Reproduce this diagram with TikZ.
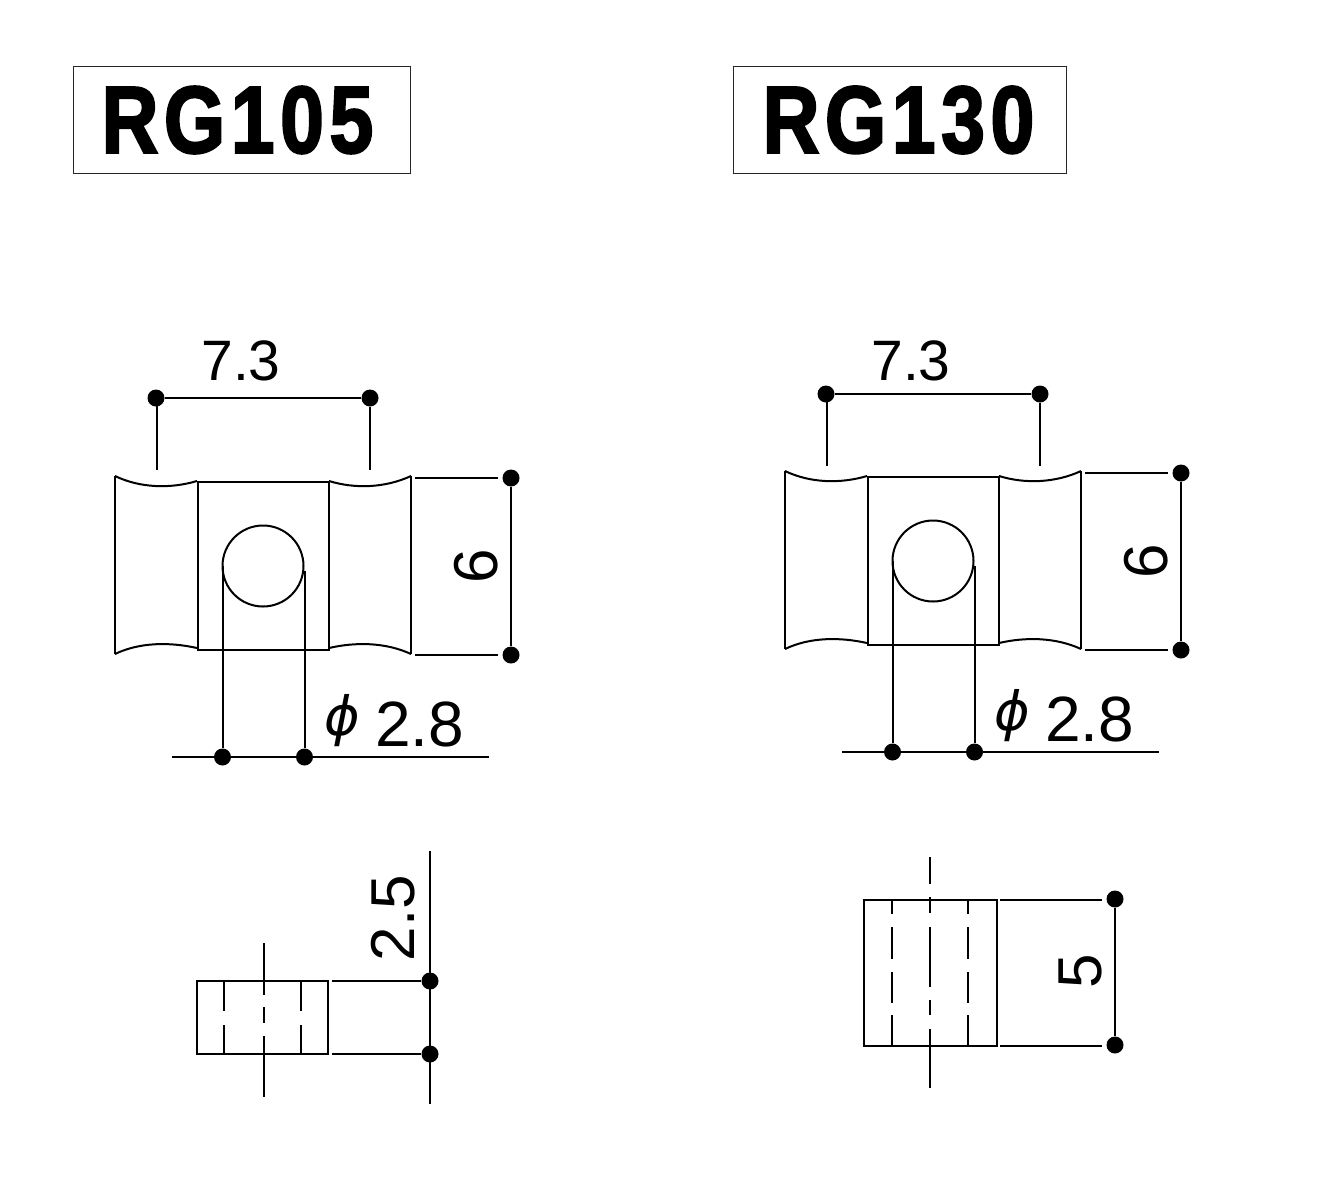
\documentclass[tikz,border=0pt]{standalone}
\usepackage{fontspec}
\setmainfont{Liberation Sans}
\newfontfamily\phifont{DejaVu Sans}
\newfontfamily\titlefont[FakeBold=2.5,LetterSpace=7]{Liberation Sans Bold}
\tikzset{
  part/.style={line width=2pt,line cap=butt},
  thin box/.style={draw=black!85,line width=0.9pt},
  dimline/.style={line width=2pt},
  blob/.style={circle,fill=black,inner sep=0pt,minimum size=17pt},
  title/.style={font=\fontsize{95}{95}\titlefont,xscale=0.83,inner sep=0pt},
  dimtext/.style={font=\fontsize{62}{62}\selectfont,inner sep=0pt},
  widthtext/.style={font=\fontsize{57}{57}\selectfont,inner sep=0pt},
  diatext/.style={font=\fontsize{64}{64}\selectfont,inner sep=0pt},
}
\newcommand{\topview}[1]{%
  \begin{scope}[shift={(#1)}]
  \draw[part] (115,476) .. controls (140,488) and (170,489) .. (197,481);
  \draw[part] (115,654) .. controls (140,642) and (170,642) .. (197,648);
  \draw[part] (115,476) -- (115,654);
  \draw[part] (198,482) rectangle (329,650);
  \draw[part] (329,481) .. controls (355,489) and (385,488) .. (411,476);
  \draw[part] (329,648) .. controls (355,642) and (385,642) .. (411,654);
  \draw[part] (411,476) -- (411,654);
  \node[draw,circle,line width=2pt,inner sep=0pt,minimum size=81pt] (hole) at (263,566) {};
  \node[blob] (d1) at (511,478) {};
  \node[blob] (d2) at (511,655) {};
  \node[blob] (d3) at (222.5,757) {};
  \node[blob] (d4) at (304.5,757) {};
  \coordinate (e1) at (415,478);
  \coordinate (e2) at (415,655);
  \coordinate (e3) at (498,478);
  \coordinate (e4) at (498,655);
  \coordinate (h1) at (222.5,566);
  \coordinate (h2) at (304.5,571);
  \coordinate (b1) at (172,756.5);
  \coordinate (b2) at (489,756.5);
  \draw[dimline] (e1) -- (e3);
  \draw[dimline] (e2) -- (e4);
  \draw[dimline] (d1) -- (d2);
  \draw[dimline] (h1) -- (d3);
  \draw[dimline] (h2) -- (d4);
  \draw[dimline] (b1) -- (b2);
  \node[dimtext,rotate=90] (six) at (476,566) {6};
  \node[diatext] (dia) at (419.5,724) {2.8};
  \node[font=\fontsize{54}{54}\selectfont\phifont\itshape,inner sep=0pt] (phi) at (342,721) {ϕ};
  \end{scope}}
\begin{document}
\begin{tikzpicture}[x=1pt,y=-1pt]
\useasboundingbox (0,0) rectangle (1327,1200);
% titles
\draw[thin box] (73.5,66) rectangle (410,173.5);
\node[title] (ta) at (237.5,120) {RG105};
\draw[thin box] (733.5,66) rectangle (1066.5,173.5);
\node[title] (tb) at (898.5,120) {RG130};
% top views
\begin{scope}[name prefix=l-]\topview{0,0}\end{scope}
\begin{scope}[name prefix=r-]\topview{670,-5}\end{scope}
% width dims left
\node[widthtext] (w1) at (241,361) {7.3};
\node[blob] (a1) at (156,398) {};
\node[blob] (a2) at (370,398) {};
\coordinate (a3) at (157,470);
\coordinate (a4) at (370,470);
\coordinate (a5) at (157,398);
\draw[dimline] (a1) -- (a2);
\draw[dimline] (a5) -- (a3);
\draw[dimline] (a2) -- (a4);
% width dims right
\node[widthtext] (w2) at (911,361) {7.3};
\node[blob] (c1) at (826,394) {};
\node[blob] (c2) at (1040,394) {};
\coordinate (c3) at (827,466);
\coordinate (c4) at (1040,466);
\coordinate (c5) at (827,394);
\draw[dimline] (c1) -- (c2);
\draw[dimline] (c5) -- (c3);
\draw[dimline] (c2) -- (c4);
% side view left
\draw[part] (196.5,981) rectangle (328,1054);
\draw[part] (224,981) -- (224,1011) (224,1025) -- (224,1054);
\draw[part] (301,981) -- (301,1011) (301,1025) -- (301,1054);
\draw[part] (263.5,943) -- (263.5,995) (263.5,1007) -- (263.5,1023) (263.5,1036) -- (263.5,1097);
\node[blob] (s1) at (430,981) {};
\node[blob] (s2) at (430,1054) {};
\coordinate (s3) at (430,851);
\coordinate (s4) at (430,1104);
\coordinate (s5) at (332,981);
\coordinate (s6) at (332,1054);
\draw[dimline] (s3) -- (s4);
\draw[dimline] (s5) -- (s1);
\draw[dimline] (s6) -- (s2);
\node[dimtext,rotate=90] (t25) at (393,918) {2.5};
% side view right
\draw[part] (863.5,899.5) rectangle (996.5,1045.5);
\foreach \xx in {892,967.5}{
  \draw[part] (\xx,899.5) -- (\xx,914) (\xx,927) -- (\xx,959) (\xx,972) -- (\xx,1003) (\xx,1015) -- (\xx,1045.5);
}
\draw[part] (930,857) -- (930,884) (930,897) -- (930,913) (930,927) -- (930,987) (930,1000) -- (930,1015) (930,1029) -- (930,1088);
\node[blob] (q1) at (1115,899) {};
\node[blob] (q2) at (1115,1045) {};
\coordinate (q3) at (1000,899.5);
\coordinate (q4) at (1000,1045.5);
\coordinate (q5) at (1102,899.5);
\coordinate (q6) at (1102,1045.5);
\draw[dimline] (q1) -- (q2);
\draw[dimline] (q3) -- (q5);
\draw[dimline] (q4) -- (q6);
\node[dimtext,rotate=90] (t5) at (1080,971) {5};
\end{tikzpicture}
\end{document}
